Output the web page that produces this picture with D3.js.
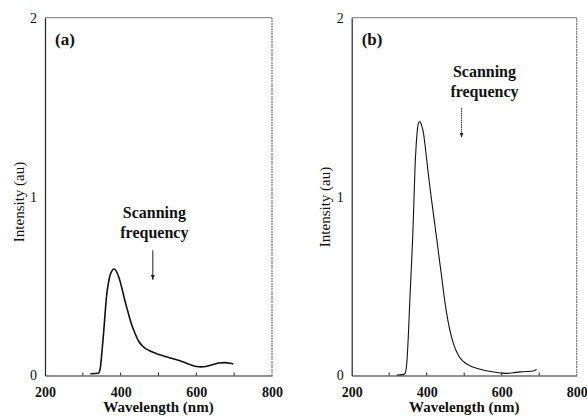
<!DOCTYPE html>
<html>
<head>
<meta charset="utf-8">
<script src="https://cdn.jsdelivr.net/npm/d3@7"></script>
<style>
  html, body { margin: 0; padding: 0; background: #fff; }
  svg { display: block; }
  text { font-family: "Liberation Serif", "Times New Roman", serif; fill: #111; }
</style>
</head>
<body>
<svg id="chart" width="587" height="417"></svg>
<script>
// ---------- data ----------
const xTicks = [200, 400, 600, 800];
const xMinorTicks = [300, 400, 500, 600, 700];
const yTicks = [0, 1, 2];

const wavelengthA = [320, 341, 346, 350, 355, 359, 363, 367, 372, 377, 382, 388, 395, 403, 411, 420, 429, 438, 448, 460, 475, 495, 515, 530, 548, 566, 585, 601, 612, 625, 645, 660, 675, 690, 698];
const intensityA  = [0.01, 0.013, 0.04, 0.12, 0.24, 0.35, 0.45, 0.51, 0.56, 0.585, 0.595, 0.585, 0.55, 0.49, 0.42, 0.35, 0.285, 0.235, 0.19, 0.16, 0.14, 0.122, 0.108, 0.098, 0.088, 0.075, 0.06, 0.05, 0.048, 0.05, 0.062, 0.07, 0.072, 0.068, 0.064];

const wavelengthB = [320, 335, 342, 347, 351, 355, 359, 363, 366, 369, 372, 375, 378, 382, 386, 391, 396, 402, 407, 413, 420, 427, 433, 440, 446, 453, 461, 471, 484, 498, 515, 533, 555, 578, 600, 613, 630, 649, 666, 684, 693];
const intensityB  = [0.003, 0.005, 0.01, 0.07, 0.22, 0.42, 0.6, 0.79, 0.98, 1.17, 1.29, 1.37, 1.41, 1.42, 1.40, 1.36, 1.28, 1.17, 1.08, 0.98, 0.87, 0.76, 0.66, 0.55, 0.45, 0.35, 0.26, 0.18, 0.115, 0.077, 0.055, 0.04, 0.028, 0.02, 0.014, 0.012, 0.015, 0.02, 0.022, 0.025, 0.033];

const panelLabels = ["(a)", "(b)"];
const annotationLines = ["Scanning", "frequency"];
const xTitle = "Wavelength (nm)";
const yTitle = "Intensity (au)";

// ---------- layout ----------
const svg = d3.select("#chart");
const panels = [
  { x0: 45, x1: 272, y0: 17.7, y1: 375.5, wl: wavelengthA, it: intensityA, label: panelLabels[0],
    arrowX: 485, arrowTop: 0.70, arrowBot: 0.535, textX: 489, textY1: 218, textY2: 238,
    yTitleX: 21, yTitleY: 202, dashed: false },
  { x0: 351.7, x1: 576.7, y0: 17.7, y1: 375.5, wl: wavelengthB, it: intensityB, label: panelLabels[1],
    arrowX: 493, arrowTop: 1.495, arrowBot: 1.33, textX: 554, textY1: 77, textY2: 97,
    yTitleX: 327, yTitleY: 207, dashed: true }
];

svg.append("defs").append("marker")
  .attr("id", "head").attr("viewBox", "0 0 10 10")
  .attr("refX", 10).attr("refY", 5)
  .attr("markerWidth", 5).attr("markerHeight", 5)
  .attr("orient", "auto")
  .append("path").attr("d", "M0,1 L10,5 L0,9 Z").attr("fill", "#222");

panels.forEach(p => {
  const x = d3.scaleLinear().domain([200, 800]).range([p.x0, p.x1]);
  const y = d3.scaleLinear().domain([0, 2]).range([p.y1, p.y0]);
  const g = svg.append("g");

  // frame
  g.append("line").attr("x1", p.x0).attr("x2", p.x1).attr("y1", p.y0).attr("y2", p.y0)
    .attr("stroke", "#777").attr("stroke-width", 1);
  g.append("line").attr("x1", p.x1).attr("x2", p.x1).attr("y1", p.y0).attr("y2", p.y1)
    .attr("stroke", "#777").attr("stroke-width", 1.2).attr("stroke-dasharray", "2,0.6");

  // x axis
  const xAxis = g.append("g").attr("transform", `translate(0,${p.y1})`)
    .call(d3.axisBottom(x).tickValues(xTicks).tickSize(0).tickPadding(12).tickFormat(d3.format("d")));
  xAxis.select(".domain").attr("stroke", "#222").attr("stroke-width", 1.2);
  xAxis.selectAll("text").attr("font-size", 14).attr("font-weight", "bold")
    .attr("font-family", "Liberation Serif, serif").attr("fill", "#111");
  // inner minor ticks
  g.selectAll(".mt").data(xMinorTicks).enter().append("line")
    .attr("x1", d => x(d)).attr("x2", d => x(d))
    .attr("y1", p.y1).attr("y2", p.y1 - 3)
    .attr("stroke", "#222").attr("stroke-width", 1);

  // y axis
  const yAxis = g.append("g").attr("transform", `translate(${p.x0},0)`)
    .call(d3.axisLeft(y).tickValues(yTicks).tickSize(0).tickPadding(8).tickFormat(d3.format("d")));
  yAxis.select(".domain").attr("stroke", "#222").attr("stroke-width", 1.2);
  yAxis.selectAll("text").attr("font-size", 14)
    .attr("font-family", "Liberation Serif, serif").attr("fill", "#111");

  // titles
  g.append("text").attr("x", (p.x0 + p.x1) / 2).attr("y", 412)
    .attr("text-anchor", "middle").attr("font-size", 15).attr("font-weight", "bold")
    .text(xTitle);
  g.append("text")
    .attr("transform", `translate(${p.yTitleX},${p.yTitleY}) rotate(-90)`)
    .attr("text-anchor", "middle").attr("dominant-baseline", "middle")
    .attr("font-size", 15).text(yTitle);

  // panel label
  g.append("text").attr("x", p.x0 + 10).attr("y", 45)
    .attr("font-size", 17).attr("font-weight", "bold").text(p.label);

  // curve
  const pts = p.wl.map((w, i) => [w, p.it[i]]);
  g.append("path").datum(pts)
    .attr("fill", "none").attr("stroke", "#111").attr("stroke-width", p.dashed ? 1.1 : 1.6)
    .attr("d", d3.line().x(d => x(d[0])).y(d => y(d[1])).curve(d3.curveMonotoneX));

  // annotation
  g.append("text").attr("x", x(p.textX)).attr("y", p.textY1)
    .attr("text-anchor", "middle").attr("font-size", 16).attr("font-weight", "bold")
    .text(annotationLines[0]);
  g.append("text").attr("x", x(p.textX)).attr("y", p.textY2)
    .attr("text-anchor", "middle").attr("font-size", 16).attr("font-weight", "bold")
    .text(annotationLines[1]);
  g.append("line")
    .attr("x1", x(p.arrowX)).attr("x2", x(p.arrowX))
    .attr("y1", y(p.arrowTop)).attr("y2", y(p.arrowBot))
    .attr("stroke", "#222").attr("stroke-width", 1)
    .attr("stroke-dasharray", p.dashed ? "1.5,0.8" : null)
    .attr("marker-end", "url(#head)");
});
</script>
</body>
</html>
